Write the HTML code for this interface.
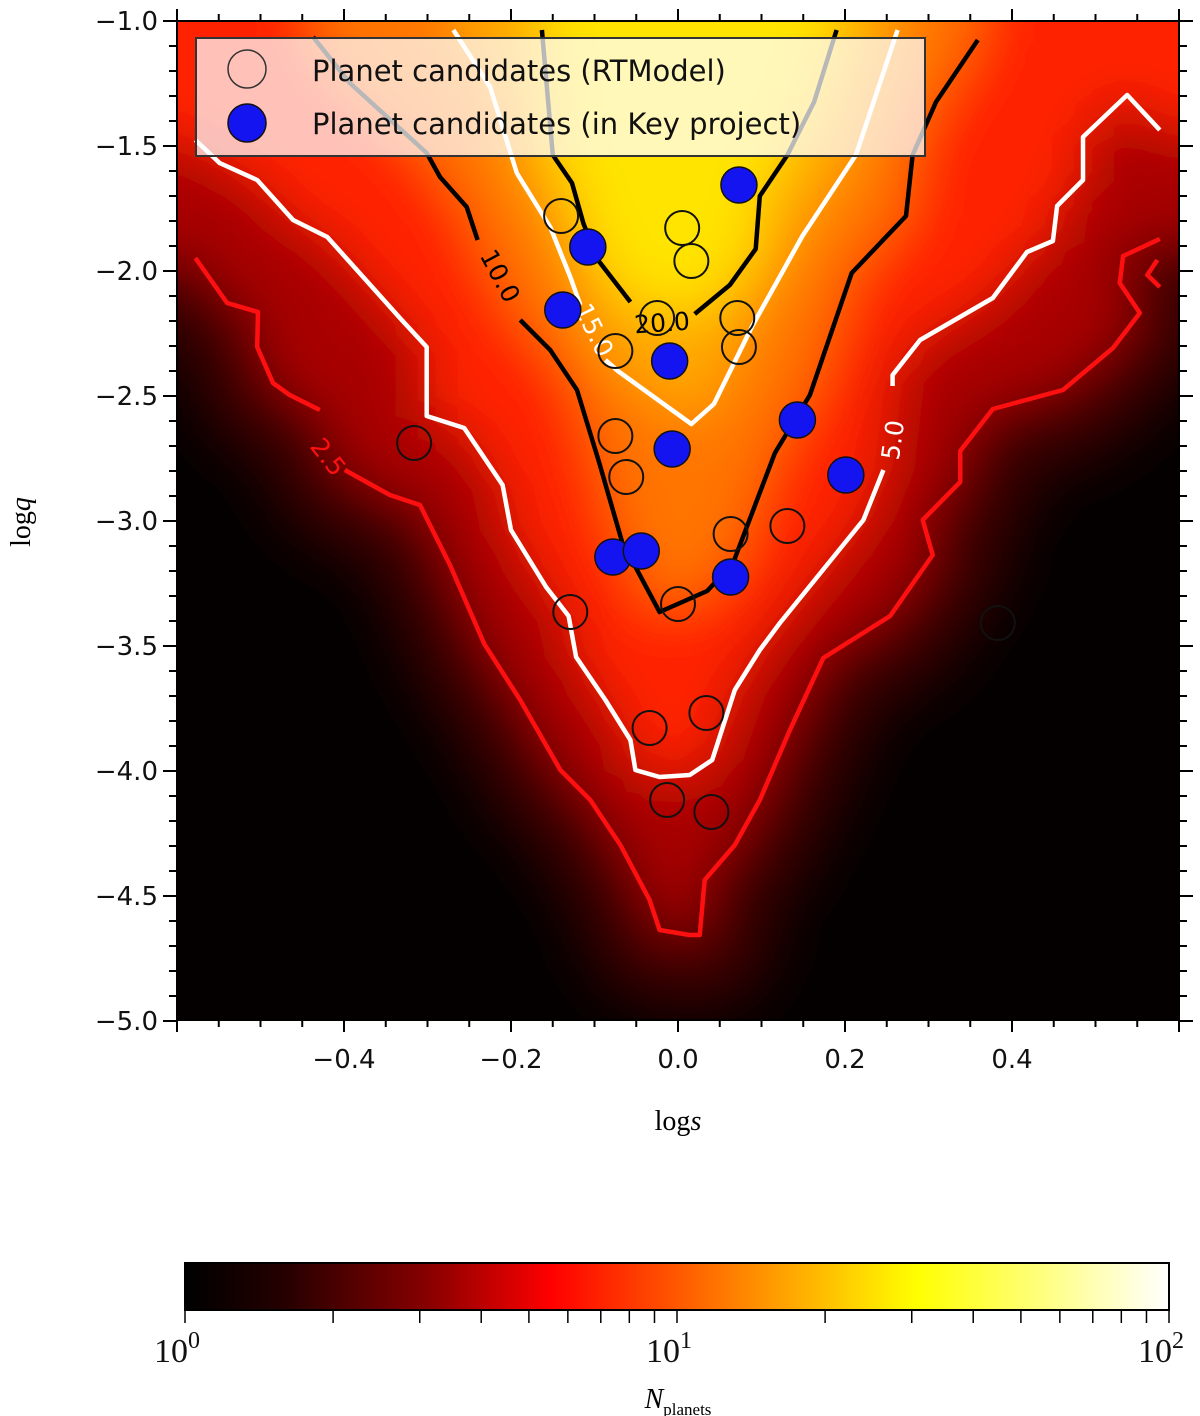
<!DOCTYPE html>
<html><head><meta charset="utf-8"><style>
body{margin:0;background:#fff}
svg{display:block}
text{font-family:"DejaVu Sans","Liberation Sans",sans-serif}
.serif{font-family:"Liberation Serif","DejaVu Serif",serif}
</style></head><body>
<svg id="chart" width="1200" height="1416" viewBox="0 0 1200 1416">
<defs>
<clipPath id="plotclip"><rect x="177" y="21" width="1002" height="999"/></clipPath>
<filter id="blur" x="-20%" y="-20%" width="140%" height="140%"><feGaussianBlur stdDeviation="28"/></filter>
<linearGradient id="hot" x1="0" x2="1" y1="0" y2="0">
<stop offset="0" stop-color="#000"/><stop offset="0.1" stop-color="#250000"/><stop offset="0.25" stop-color="#8a0000"/>
<stop offset="0.372" stop-color="#ff0000"/><stop offset="0.55" stop-color="#ff7a00"/><stop offset="0.743" stop-color="#ffff00"/>
<stop offset="1" stop-color="#ffffff"/></linearGradient>
</defs>
<g id="heat" clip-path="url(#plotclip)"><rect x="150" y="0" width="1060" height="1050" fill="#050000"/><g id="heatfill" filter="url(#blur)"></g></g>
<g id="contours" clip-path="url(#plotclip)"></g>
<g id="points"></g>
<g id="legend">
<rect x="196" y="38" width="729" height="118" fill="rgba(255,255,255,0.72)" stroke="#333" stroke-width="2"/>
<circle cx="247" cy="69" r="19" fill="none" stroke="#333" stroke-width="1.5"/>
<text x="312" y="81" font-size="29" fill="#111">Planet candidates (RTModel)</text>
<circle cx="247" cy="123" r="19" fill="#1414f0" stroke="#111" stroke-width="1.5"/>
<text x="312" y="134" font-size="29" fill="#111">Planet candidates (in Key project)</text>
</g>
<rect x="177" y="21" width="1002" height="999" fill="none" stroke="#000" stroke-width="2"/>
<g id="axes"></g>
<text class="serif" x="0" y="0" font-size="28" transform="translate(30,522) rotate(-90)" text-anchor="middle">log<tspan font-style="italic">q</tspan></text>
<text class="serif" x="678" y="1130" font-size="28" text-anchor="middle">log<tspan font-style="italic">s</tspan></text>
<g id="colorbar">
<rect x="185" y="1263" width="984" height="47" fill="url(#hot)" stroke="#000" stroke-width="2"/>
</g>
<text class="serif" x="678" y="1408" font-size="28" text-anchor="middle"><tspan font-style="italic">N</tspan><tspan font-size="17" dy="7">planets</tspan></text>
</svg>
<script>
const xTicks=[-0.4,-0.2,0.0,0.2,0.4];
const xTickLabels=["\u22120.4","\u22120.2","0.0","0.2","0.4"];
const yTicks=[-1.0,-1.5,-2.0,-2.5,-3.0,-3.5,-4.0,-4.5,-5.0];
const yTickLabels=["\u22121.0","\u22121.5","\u22122.0","\u22122.5","\u22123.0","\u22123.5","\u22124.0","\u22124.5","\u22125.0"];
const cbTicks=[0,1,2];
const openS=[-0.140,0.005,0.016,-0.025,0.071,0.073,-0.075,-0.316,-0.075,-0.062,0.063,0.131,-0.129,0.000,0.383,-0.034,0.034,-0.013,0.040];
const openQ=[-1.780,-1.828,-1.960,-2.188,-2.188,-2.304,-2.320,-2.688,-2.660,-2.824,-3.052,-3.020,-3.364,-3.332,-3.408,-3.828,-3.768,-4.116,-4.164];
const keyS=[0.073,-0.108,-0.138,-0.010,-0.007,0.143,0.201,-0.078,-0.044,0.063];
const keyQ=[-1.656,-1.904,-2.156,-2.360,-2.712,-2.596,-2.816,-3.144,-3.120,-3.224];
const c25a_s=[-0.578,-0.540,-0.503,-0.504,-0.485,-0.465,-0.429];
const c25a_q=[-1.948,-2.128,-2.164,-2.304,-2.448,-2.496,-2.556];
const c25b_s=[-0.399,-0.345,-0.309,-0.273,-0.232,-0.189,-0.141,-0.105,-0.069,-0.034,-0.022,0.014,0.026,0.032,0.068,0.098,0.134,0.174,0.254,0.305,0.293,0.338,0.338,0.377,0.461,0.521,0.553,0.529,0.533,0.577];
const c25b_q=[-2.796,-2.896,-2.936,-3.176,-3.492,-3.716,-3.996,-4.116,-4.296,-4.516,-4.636,-4.656,-4.656,-4.436,-4.296,-4.116,-3.836,-3.548,-3.380,-3.136,-2.996,-2.844,-2.720,-2.552,-2.476,-2.308,-2.168,-2.048,-1.940,-1.872];
const c25h_s=[0.577,0.562,0.574];
const c25h_q=[-2.064,-2.016,-1.956];
const c5a_s=[-0.578,-0.549,-0.504,-0.461,-0.420,-0.333,-0.301,-0.301,-0.256,-0.210,-0.200,-0.158,-0.131,-0.122,-0.087,-0.057,-0.051,-0.022,0.014,0.041,0.068,0.098,0.122,0.222,0.246];
const c5a_q=[-1.476,-1.568,-1.636,-1.796,-1.864,-2.188,-2.304,-2.580,-2.628,-2.856,-3.036,-3.264,-3.380,-3.544,-3.716,-3.876,-3.996,-4.024,-4.016,-3.956,-3.676,-3.516,-3.408,-2.996,-2.796];
const c5b_s=[0.257,0.257,0.290,0.377,0.418,0.449,0.454,0.485,0.485,0.538,0.577];
const c5b_q=[-2.460,-2.416,-2.276,-2.108,-1.924,-1.880,-1.740,-1.636,-1.464,-1.296,-1.436];
const c10a_s=[-0.437,-0.393,-0.301,-0.285,-0.253,-0.240];
const c10a_q=[-1.064,-1.248,-1.528,-1.624,-1.744,-1.876];
const c10b_s=[-0.189,-0.153,-0.121,-0.095,-0.067,-0.022,0.035,0.066,0.116,0.158,0.208,0.273,0.281,0.309,0.359];
const c10b_q=[-2.196,-2.316,-2.476,-2.760,-3.084,-3.364,-3.280,-3.168,-2.728,-2.496,-2.008,-1.780,-1.536,-1.324,-1.076];
const c15a_s=[-0.269,-0.225,-0.193,-0.153,-0.129,-0.117];
const c15a_q=[-1.036,-1.264,-1.608,-1.824,-2.024,-2.136];
const c15b_s=[-0.087,-0.072,0.016,0.043,0.089,0.149,0.213,0.263];
const c15b_q=[-2.356,-2.400,-2.612,-2.532,-2.220,-1.860,-1.536,-1.036];
const c20a_s=[-0.163,-0.150,-0.127,-0.113,-0.095,-0.057];
const c20a_q=[-1.036,-1.536,-1.648,-1.812,-1.960,-2.124];
const c20b_s=[0.020,0.062,0.093,0.098,0.131,0.163,0.190];
const c20b_q=[-2.172,-2.056,-1.912,-1.700,-1.536,-1.324,-1.036];

const NS="http://www.w3.org/2000/svg";
const X=s=>678+835*s;
const Y=q=>21+250*(-1-q);
const CB=l=>185+984*l/2;
function mk(tag,attrs,parent){const e=document.createElementNS(NS,tag);for(const k in attrs)e.setAttribute(k,attrs[k]);parent.appendChild(e);return e;}
function pts(S,Q){return S.map((s,i)=>[s,Q[i]]);}
function toPath(P){return P.map((p,i)=>(i?"L":"M")+X(p[0]).toFixed(1)+" "+Y(p[1]).toFixed(1)).join(" ");}
function region(P){let a=P.slice();const f=a[0],l=a[a.length-1];
 if(f[0]<-0.55)a.unshift([-0.8,f[1]]);a.unshift([a[0][0],-0.7]);
 if(l[0]>0.55)a.push([0.8,l[1]]);a.push([a[a.length-1][0],-0.7]);return toPath(a)+"Z";}
const heat=document.getElementById("heatfill");
const outer=pts(c25a_s,c25a_q).concat(pts(c25b_s,c25b_q));
const halo=mk("path",{d:region(outer),fill:"#4a0000",stroke:"#3a0000","stroke-width":150,"stroke-linejoin":"round"},heat);


const regs=[[outer,"#a80000"],
 [pts(c5a_s,c5a_q).concat(pts(c5b_s,c5b_q)),"#ff2400"],
 [pts(c10a_s,c10a_q).concat(pts(c10b_s,c10b_q)),"#ff7400"],
 [pts(c15a_s,c15a_q).concat(pts(c15b_s,c15b_q)),"#ffa800"],
 [pts(c20a_s,c20a_q).concat(pts(c20b_s,c20b_q)),"#ffe400"]];
regs.forEach((r,i)=>{const e=mk("path",{d:region(r[0]),fill:r[1]},heat);
 
 });
const cg=document.getElementById("contours");
const lines=[[c25a_s,c25a_q,"#ff1010"],[c25b_s,c25b_q,"#ff1010"],[c25h_s,c25h_q,"#ff1010"],
 [c5a_s,c5a_q,"#ffffff"],[c5b_s,c5b_q,"#ffffff"],[c10a_s,c10a_q,"#000"],[c10b_s,c10b_q,"#000"],
 [c15a_s,c15a_q,"#ffffff"],[c15b_s,c15b_q,"#ffffff"],[c20a_s,c20a_q,"#000"],[c20b_s,c20b_q,"#000"]];
lines.forEach(l=>{const e=mk("path",{d:toPath(pts(l[0],l[1])),fill:"none",stroke:l[2],"stroke-width":4.5,"stroke-linejoin":"round"},cg);
 
 });
const labs=[["2.5",328,457,52,"#ff1010"],["5.0",893,440,-82,"#fff"],["10.0",500,276,62,"#000"],["15.0",594,330,64,"#fff"],["20.0",662,323,-4,"#000"]];
labs.forEach(l=>{const t=mk("text",{x:0,y:0,"font-size":25,fill:l[4],"text-anchor":"middle","dominant-baseline":"central",transform:`translate(${l[1]},${l[2]}) rotate(${l[3]})`},cg);t.textContent=l[0];
 
 });
const pg=document.getElementById("points");
openS.forEach((s,i)=>{const c=mk("circle",{cx:X(s),cy:Y(openQ[i]),r:17,fill:"none",stroke:"#111","stroke-width":2},pg);
 
 });
keyS.forEach((s,i)=>{const c=mk("circle",{cx:X(s),cy:Y(keyQ[i]),r:18,fill:"#1414f0",stroke:"#111","stroke-width":1.5},pg);
 
 });
const ax=document.getElementById("axes");
for(let k=-12;k<=12;k++){const s=k*0.05,x=X(s);const major=k%4===0;const L=major?12:7;
 mk("line",{x1:x,x2:x,y1:1020,y2:1020+L,stroke:"#000","stroke-width":2},ax);
 mk("line",{x1:x,x2:x,y1:21,y2:21-L,stroke:"#000","stroke-width":2},ax);}
for(let k=0;k<=40;k++){const q=-1-k*0.1,y=Y(q);const L=k%5===0?14:8;
 mk("line",{x1:177,x2:177-L,y1:y,y2:y,stroke:"#000","stroke-width":2},ax);
 mk("line",{x1:1179,x2:1179+L,y1:y,y2:y,stroke:"#000","stroke-width":2},ax);}
xTicks.forEach((s,i)=>{const t=mk("text",{x:X(s),y:1068,"font-size":26,"text-anchor":"middle",fill:"#111"},ax);t.textContent=xTickLabels[i];
 
 });
yTicks.forEach((q,i)=>{const t=mk("text",{x:158,y:Y(q)+9,"font-size":26,"text-anchor":"end",fill:"#111"},ax);t.textContent=yTickLabels[i];
 
 });
const cb=document.getElementById("colorbar");
for(let d=0;d<2;d++)for(let m=1;m<=9;m++){const x=CB(d+Math.log10(m));mk("line",{x1:x,x2:x,y1:1310,y2:1323,stroke:"#000","stroke-width":1.5},cb);}
mk("line",{x1:CB(2),x2:CB(2),y1:1310,y2:1323,stroke:"#000","stroke-width":1.5},cb);
cbTicks.forEach(p=>{const t=mk("text",{x:CB(p)-8,y:1362,"font-size":34,"text-anchor":"middle",class:"serif",fill:"#111"},cb);
 t.textContent="10";const sp=mk("tspan",{dy:-14,"font-size":24},t);sp.textContent=String(p);
 
 });
</script>
</body></html>
